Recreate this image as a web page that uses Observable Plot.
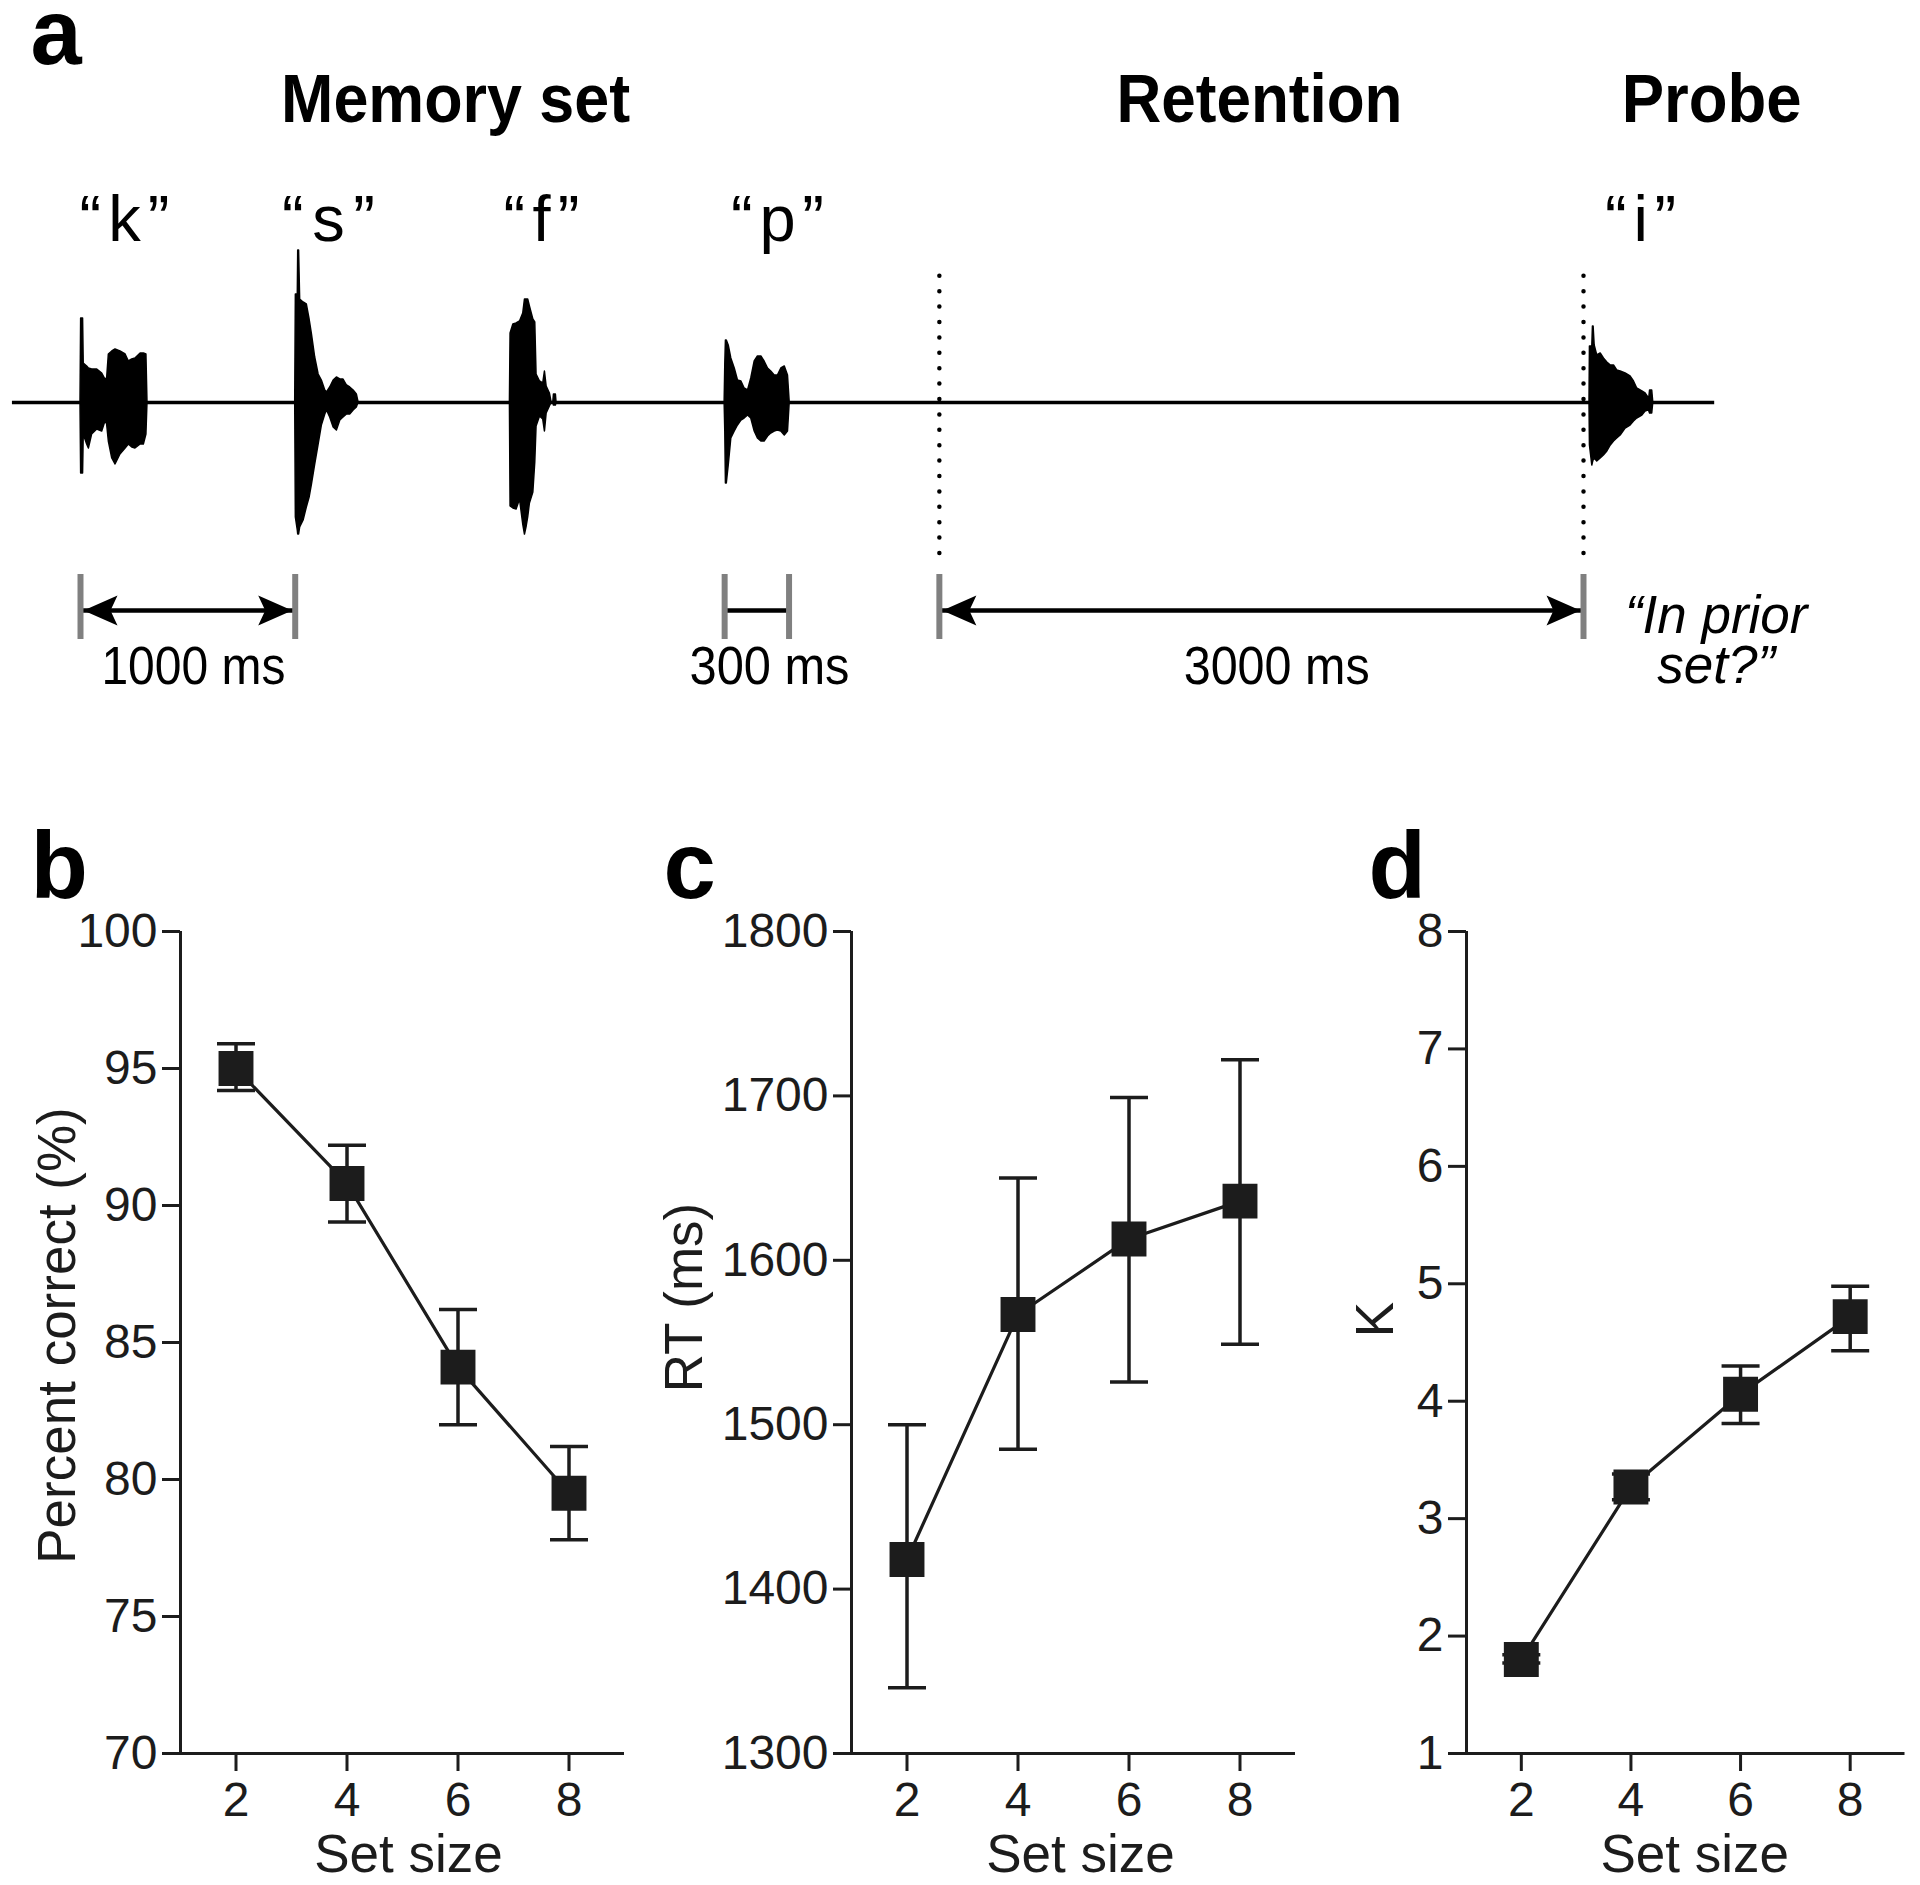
<!DOCTYPE html>
<html>
<head>
<meta charset="utf-8">
<script src="https://cdn.jsdelivr.net/npm/d3@7"></script>
<script src="https://cdn.jsdelivr.net/npm/@observablehq/plot@0.6"></script>
<style>
html,body{margin:0;padding:0;background:#fff;}
#fig{position:relative;width:1920px;height:1885px;overflow:hidden;background:#fff;}
#fig svg{position:absolute;max-width:none;overflow:visible;background:transparent;}
#fig g[aria-label$="tick label"], #fig g[aria-label$="tick label"] text{font-size:48px !important;}
</style>
</head>
<body>
<div id="fig"></div>
<script>
// ---------------- data: panels b, c, d ----------------
const setSize = [2, 4, 6, 8];
const setTicks = [2, 4, 6, 8];
const pctMean = [95.0, 90.8, 84.1, 79.5];
const pctHi   = [95.9, 92.2, 86.2, 81.2];
const pctLo   = [94.2, 89.4, 82.0, 77.8];
const pctTicks = [70, 75, 80, 85, 90, 95, 100];
const rtMean = [1418, 1567, 1613, 1636];
const rtHi   = [1500, 1650, 1699, 1722];
const rtLo   = [1340, 1485, 1526, 1549];
const rtTicks = [1300, 1400, 1500, 1600, 1700, 1800];
const capMean = [1.80, 3.27, 4.06, 4.72];
const capHi   = [1.84, 3.38, 4.30, 4.98];
const capLo   = [1.77, 3.16, 3.81, 4.43];
const capTicks = [1, 2, 3, 4, 5, 6, 7, 8];

// ---------------- data: panel a (trial schematic, time in ms) ----------------
const stimLetters = ["k", "s", "f", "p", "i"];
const stimOnset = [0, 1000, 2000, 3000, 7000];
const letterX = [205, 1155, 2147, 3246, 7266];
const headings = ["Memory set", "Retention", "Probe"];
const headingX = [1747, 5491, 7597];
// waveform envelopes: time from onset (ms), upper and lower amplitude
const wkT  = [0, 3, 12, 15, 31, 39, 54, 78, 101, 116, 124, 132, 148, 163, 186, 210, 225, 241, 256, 280, 295, 307, 312];
const wkUp = [0, 84, 84, 39, 36, 34, 33, 33, 29, 23, 24, 48, 51, 53, 51, 48, 41, 43, 44, 49, 49, 48, 0];
const wkLo = [0, -71, -71, -32, -42, -46, -32, -27, -29, -19, -22, -39, -56, -62, -52, -46, -42, -45, -46, -42, -42, -32, 0];
const wsT  = [0, 3, 12, 14, 18, 23, 39, 54, 67, 78, 93, 109, 124, 140, 148, 163, 179, 194, 210, 225, 241, 256, 272, 287, 295];
const wsUp = [0, 108, 108, 152, 152, 103, 100, 98, 83, 68, 45, 28, 22, 12, 10, 15, 22, 25, 23, 23, 17, 15, 12, 8, 0];
const wsLo = [0, -115, -128, -132, -132, -125, -118, -105, -95, -82, -62, -42, -23, -12, -8, -15, -25, -28, -18, -15, -12, -12, -8, -5, 0];
const wfT  = [0, 3, 16, 31, 47, 62, 70, 78, 85, 93, 109, 118, 124, 140, 155, 163, 171, 186, 194, 202, 205, 214, 217];
const wfUp = [0, 69, 78, 79, 81, 89, 103, 103, 103, 96, 83, 80, 28, 21, 19, 31, 16, 9, 0, 0, 8, 8, 0];
const wfLo = [0, -104, -106, -107, -97, -122, -132, -124, -115, -101, -90, -60, -24, -14, -17, -29, -11, -4, 0, 0, -3, -3, 0];
const wpT  = [0, 3, 6, 10, 19, 31, 47, 62, 78, 93, 109, 124, 140, 155, 171, 186, 202, 217, 233, 248, 264, 280, 295, 303];
const wpUp = [0, 38, 62, 62, 57, 44, 34, 22, 21, 14, 12, 24, 41, 46, 46, 41, 34, 31, 27, 27, 34, 36, 27, 0];
const wpLo = [0, -29, -81, -81, -63, -36, -29, -23, -18, -16, -13, -16, -29, -36, -39, -39, -34, -31, -29, -28, -29, -33, -29, 0];
const wiT  = [28, 30, 41, 44, 47, 52, 64, 80, 95, 111, 127, 142, 157, 173, 196, 219, 235, 250, 274, 289, 302, 305, 310, 320, 325];
const wiUp = [0, 56, 56, 76, 76, 57, 47, 49, 44, 40, 37, 37, 32, 31, 29, 26, 21, 14, 11, 9, 5, 2, 12, 12, 0];
const wiLo = [0, -43, -63, -60, -58, -56, -59, -56, -53, -49, -43, -39, -36, -33, -26, -23, -19, -16, -13, -9, -8, -8, -11, -11, 0];
const spanFrom = [0, 3000, 4000];
const spanTo = [1000, 3300, 7000];
const spanHeads = [true, false, true];
const spanLabel = ["1000 ms", "300 ms", "3000 ms"];
const spanLabelX = [526, 3209, 5571];
const boundaryTicks = [0, 1000, 3000, 3300, 4000, 7000];
const dottedAt = [4000, 7000];
const probeQuestion = "\u201cIn prior\nset?\u201d";
const probeQuestionX = 7618;

// ---------------- helpers ----------------
const FONT = '"Liberation Sans", Arial, Helvetica, sans-serif';
const INK = "#1c1c1c";
const fig = document.getElementById("fig");

function place(svg, left, top) {
  svg.style.left = left + "px";
  svg.style.top = top + "px";
  fig.appendChild(svg);
}

function fitText(svg, widths, adjust) {
  d3.select(svg).selectAll("text").each(function () {
    const w = widths[this.textContent];
    if (w) {
      this.setAttribute("textLength", w);
      this.setAttribute("lengthAdjust", adjust[this.textContent] || "spacingAndGlyphs");
    }
  });
}

// barbed arrowhead pointing right, tip slightly left of its anchor
const arrowHead = {
  draw(ctx) {
    const L = 34, W = 15, n = 27, o = 3;
    ctx.moveTo(-o, 0);
    ctx.lineTo(-o - L, -W);
    ctx.lineTo(-o - n, 0);
    ctx.lineTo(-o - L, W);
    ctx.closePath();
  }
};
// horizontal error-bar cap
const capSymbol = {
  draw(ctx, size) {
    const w = Math.sqrt(size / Math.PI);
    ctx.moveTo(-w, 0);
    ctx.lineTo(w, 0);
  }
};

// ---------------- panel a ----------------
const waveT = [wkT, wsT, wfT, wpT, wiT];
const waveUp = [wkUp, wsUp, wfUp, wpUp, wiUp];
const waveLo = [wkLo, wsLo, wfLo, wpLo, wiLo];
const waveRows = stimLetters.flatMap((L, j) =>
  waveT[j].map((t, i) => ({letter: L, t: stimOnset[j] + t, up: waveUp[j][i], lo: waveLo[j][i]})));
const spans = spanFrom.map((f, i) => ({from: f, to: spanTo[i], heads: spanHeads[i], label: spanLabel[i], lx: spanLabelX[i]}));
const heads = spans.filter(d => d.heads).flatMap(d => [{x: d.from, rot: 180}, {x: d.to, rot: 0}]);

const panelA = Plot.plot({
  width: 1920, height: 720,
  margin: 0,
  x: {domain: [0, 7000], range: [80, 1583], axis: null},
  y: {domain: [-318, 402], range: [720, 0], axis: null},
  style: {fontFamily: FONT, color: "#000", background: "transparent", overflow: "visible"},
  marks: [
    Plot.ruleY([0], {x1: -317, x2: 7611, stroke: "#000", strokeWidth: 3.5}),
    Plot.areaY(waveRows, {x: "t", y1: "lo", y2: "up", z: "letter", fill: "#000", stroke: "#000", strokeWidth: 1.5, curve: "linear"}),
    Plot.ruleX(dottedAt, {y1: -151, y2: 127, stroke: "#000", strokeWidth: 4.5, strokeDasharray: "0 15.4", strokeLinecap: "round"}),
    Plot.ruleY(spans, {x1: "from", x2: "to", y: -208, stroke: "#000", strokeWidth: 4.5}),
    Plot.ruleX(boundaryTicks, {y1: -172, y2: -237, stroke: "#808080", strokeWidth: 6}),
    Plot.dot(heads, {x: "x", y: -208, rotate: "rot", symbol: arrowHead, r: 10, fill: "#000", stroke: "none"}),
    Plot.text(["a"], {text: d => d, frameAnchor: "top-left", dx: 30, dy: -2, textAnchor: "start", lineAnchor: "top", fontSize: 92, fontWeight: "bold"}),
    Plot.text(headings, {text: d => d, x: (d, i) => headingX[i], frameAnchor: "top", dy: 73, lineAnchor: "top", fontSize: 68, fontWeight: "bold"}),
    Plot.text(stimLetters, {text: d => "\u201c" + d + "\u201d", x: (d, i) => letterX[i], frameAnchor: "top", dy: 194, lineAnchor: "top", fontSize: 65}),
    Plot.text(spans, {text: "label", x: "lx", frameAnchor: "top", dy: 646, lineAnchor: "top", fontSize: 53}),
    Plot.text([probeQuestion], {text: d => d, x: probeQuestionX, frameAnchor: "top", dy: 597, lineAnchor: "top", lineHeight: 0.94, fontSize: 53, fontStyle: "italic"})
  ]
});
fitText(panelA, {
  "Memory set": 349, "Retention": 286, "Probe": 180,
  "\u201ck\u201d": 90, "\u201cs\u201d": 93, "\u201cf\u201d": 76, "\u201cp\u201d": 93, "\u201ci\u201d": 71,
  "1000 ms": 184, "300 ms": 160, "3000 ms": 186
}, {"\u201ck\u201d": "spacing", "\u201cs\u201d": "spacing", "\u201cf\u201d": "spacing", "\u201cp\u201d": "spacing", "\u201ci\u201d": "spacing"});
place(panelA, 0, 0);

// ---------------- panels b, c, d ----------------
function panel(o) {
  const rows = setSize.map((s, i) => ({s, m: o.mean[i], hi: o.hi[i], lo: o.lo[i]}));
  const [y0, y1] = [o.ticks[0], o.ticks[o.ticks.length - 1]];
  return Plot.plot({
    width: o.width, height: 1065,
    marginLeft: o.mL, marginRight: o.mR, marginTop: 111, marginBottom: 132,
    x: {domain: [1, 9]},
    y: {domain: [y0, y1]},
    style: {fontFamily: FONT, fontSize: "48px", color: INK, background: "transparent", overflow: "visible"},
    marks: [
      Plot.ruleX([1], {y1: y0, y2: y1, stroke: INK, strokeWidth: 3}),
      Plot.ruleY([y0], {x1: 1, x2: 9, stroke: INK, strokeWidth: 3}),
      Plot.axisY({ticks: o.ticks, tickSize: 18, tickPadding: 5, strokeWidth: 3, label: null, fontSize: 48, tickFormat: d => String(d)}),
      Plot.axisX({ticks: setTicks, tickSize: 18, tickPadding: 10, strokeWidth: 3, label: null, fontSize: 48, tickFormat: d => String(d)}),
      Plot.ruleX(rows, {x: "s", y1: "lo", y2: "hi", stroke: INK, strokeWidth: 3.5}),
      Plot.dot(rows, {x: "s", y: "hi", symbol: capSymbol, r: 19, fill: "none", stroke: INK, strokeWidth: 3.5}),
      Plot.dot(rows, {x: "s", y: "lo", symbol: capSymbol, r: 19, fill: "none", stroke: INK, strokeWidth: 3.5}),
      Plot.line(rows, {x: "s", y: "m", stroke: INK, strokeWidth: 3.2}),
      Plot.dot(rows, {x: "s", y: "m", symbol: "square", r: 19.7, fill: INK, stroke: "none"}),
      Plot.text([o.letter], {text: d => d, frameAnchor: "top-left", dx: o.letterDx, dy: -100, textAnchor: "start", lineAnchor: "top", fontSize: 94, fontWeight: "bold", fill: "#000"}),
      Plot.text([o.yLabel], {text: d => d, frameAnchor: "left", rotate: -90, dx: o.labelDx, dy: o.labelDy, textAnchor: "middle", lineAnchor: "bottom", fontSize: 53}),
      Plot.text(["Set size"], {text: d => d, frameAnchor: "bottom", dx: o.setDx, dy: 118, textAnchor: "middle", lineAnchor: "bottom", fontSize: 53})
    ]
  });
}

place(panel({letter: "b", mean: pctMean, hi: pctHi, lo: pctLo, ticks: pctTicks, yLabel: "Percent correct (%)",
  width: 640, mL: 180, mR: 16, letterDx: -150, labelDx: -106, labelDy: -7, setDx: 6}), 0, 820);
place(panel({letter: "c", mean: rtMean, hi: rtHi, lo: rtLo, ticks: rtTicks, yLabel: "RT (ms)",
  width: 660, mL: 211, mR: 5, letterDx: -188, labelDx: -150, labelDy: -45, setDx: 7}), 640, 820);
place(panel({letter: "d", mean: capMean, hi: capHi, lo: capLo, ticks: capTicks, yLabel: "K",
  width: 620, mL: 166, mR: 15.5, letterDx: -98, labelDx: -74, labelDy: -23, setDx: 9}), 1300, 820);
</script>
</body>
</html>
